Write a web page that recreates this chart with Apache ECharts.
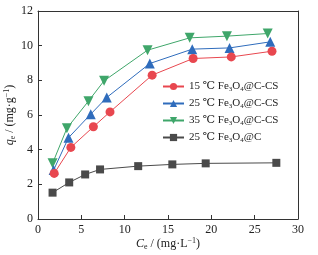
<!DOCTYPE html>
<html><head><meta charset="utf-8">
<script src="https://cdn.jsdelivr.net/npm/echarts@6/dist/echarts.min.js"></script>
<style>html,body{margin:0;padding:0;background:#fff}#c{width:318px;height:255px}</style>
</head><body><div id="c"></div>
<script>
const names = ['15 ℃ Fe3O4@C-CS','25 ℃ Fe3O4@C-CS','35 ℃ Fe3O4@C-CS','25 ℃ Fe3O4@C'];
const ce15 = [1.87, 3.79, 6.39, 8.31, 13.17, 17.9, 22.3, 27.0];
const qe15 = [2.63, 4.13, 5.32, 6.18, 8.30, 9.26, 9.35, 9.68];
const ce25 = [1.8, 3.52, 6.09, 7.93, 12.9, 17.8, 22.1, 26.8];
const qe25 = [2.82, 4.69, 6.05, 7.01, 8.97, 9.80, 9.87, 10.22];
const ce35 = [1.68, 3.33, 5.82, 7.62, 12.64, 17.5, 21.8, 26.5];
const qe35 = [3.21, 5.23, 6.80, 7.97, 9.74, 10.45, 10.55, 10.70];
const ceC = [1.68, 3.6, 5.44, 7.16, 11.56, 15.5, 19.35, 27.5];
const qeC = [1.52, 2.11, 2.57, 2.86, 3.05, 3.15, 3.21, 3.24];
const xTicks = [0, 5, 10, 15, 20, 25, 30];
const yTicks = [0, 2, 4, 6, 8, 10, 12];

const font = '"Liberation Serif","DejaVu Serif",serif';
const colors = ['#e8474f', '#2f6cbc', '#3fa66a', '#4a4a4a'];
const symbols = ['circle', 'triangle', 'triangle', 'rect'];
const rotates = [0, 0, 180, 0];
const sizes = [9, 10, 10, 8];
const xs = [ce15, ce25, ce35, ceC];
const ys = [qe15, qe25, qe35, qeC];

const series = names.map((n, i) => ({
  name: n, type: 'line',
  data: xs[i].map((x, j) => [x, ys[i][j]]),
  symbol: symbols[i], symbolRotate: rotates[i], symbolSize: sizes[i],
  lineStyle: {color: colors[i], width: 1},
  itemStyle: {color: colors[i]},
  z: 4 - i
}));

const rich = {
  s: {fontFamily: font, fontSize: 7, verticalAlign: 'bottom', lineHeight: 13, color: '#222'},
  n: {fontFamily: font, fontSize: 11, lineHeight: 13, color: '#222'}
};
const nameRich = {
  i: {fontFamily: font, fontSize: 12, fontStyle: 'italic', lineHeight: 14, color: '#222'},
  s: {fontFamily: font, fontSize: 8, verticalAlign: 'bottom', lineHeight: 14, color: '#222'},
  u: {fontFamily: font, fontSize: 8, verticalAlign: 'top', lineHeight: 14, color: '#222'},
  n: {fontFamily: font, fontSize: 12, lineHeight: 14, color: '#222'}
};
const frame = {show: true, onZero: false, lineStyle: {color: '#333', width: 1}};

const chart = echarts.init(document.getElementById('c'), null, {renderer: 'canvas'});
chart.setOption({
  animation: false,
  grid: {left: 38, right: 20, top: 11, bottom: 36, outerBoundsMode: 'none', containLabel: false},
  legend: {
    orient: 'vertical', left: 157, top: 76, itemGap: 5,
    itemWidth: 21, itemHeight: 9,
    data: names,
    formatter: function (n) {
      const p = n.split('Fe3O4');
      return '{n|' + p[0] + 'Fe}{s|3}{n|O}{s|4}{n|' + p[1] + '}';
    },
    textStyle: {fontFamily: font, fontSize: 11, color: '#222', rich: rich}
  },
  xAxis: [{
    type: 'value', min: 0, max: 30, interval: 5,
    name: '{i|C}{s|e}{n| / (mg·L}{u|−1}{n|)}',
    nameLocation: 'middle', nameGap: 18, nameMoveOverlap: false,
    nameTextStyle: {rich: nameRich},
    axisLine: frame,
    axisTick: {inside: true, length: 4, lineStyle: {color: '#333'}},
    axisLabel: {fontFamily: font, fontSize: 12, color: '#222', margin: 5},
    splitLine: {show: false}
  }, {
    type: 'value', position: 'top', min: 0, max: 30, interval: 5,
    axisLine: frame, axisTick: {show: false}, axisLabel: {show: false}, splitLine: {show: false}
  }],
  yAxis: [{
    type: 'value', min: 0, max: 12, interval: 2,
    name: '{i|q}{s|e}{n| / (mg·g}{u|−1}{n|)}',
    nameLocation: 'middle', nameGap: 21, nameRotate: 90, nameMoveOverlap: false,
    nameTextStyle: {rich: nameRich},
    axisLine: frame,
    axisTick: {show: true, inside: true, length: 4, lineStyle: {color: '#333'}},
    axisLabel: {fontFamily: font, fontSize: 12, color: '#222', margin: 5},
    splitLine: {show: false}
  }, {
    type: 'value', position: 'right', min: 0, max: 12, interval: 2,
    axisLine: frame, axisTick: {show: false}, axisLabel: {show: false}, splitLine: {show: false}
  }],
  series: series
});
</script></body></html>
